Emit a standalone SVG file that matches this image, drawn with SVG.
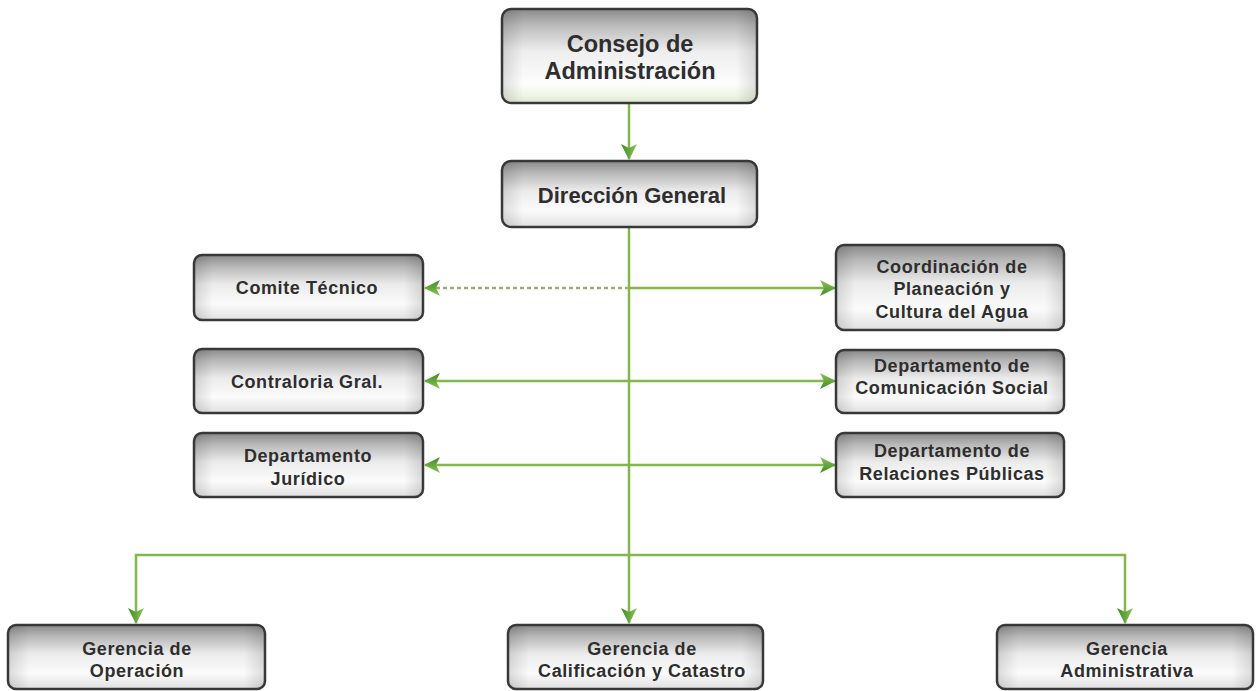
<svg xmlns="http://www.w3.org/2000/svg" width="1257" height="691" viewBox="0 0 1257 691">
  <defs>
    <linearGradient id="boxFill" x1="0" y1="0" x2="0" y2="1">
      <stop offset="0" stop-color="#8a8a8a"/>
      <stop offset="0.18" stop-color="#b8b8b8"/>
      <stop offset="0.45" stop-color="#ebebeb"/>
      <stop offset="0.75" stop-color="#fbfbfb"/>
      <stop offset="1" stop-color="#e0e0e0"/>
    </linearGradient>
    <linearGradient id="topFill" x1="0" y1="0" x2="0" y2="1">
      <stop offset="0" stop-color="#8a8a8a"/>
      <stop offset="0.18" stop-color="#bcbcbc"/>
      <stop offset="0.45" stop-color="#eeeeee"/>
      <stop offset="0.8" stop-color="#fdfdfd"/>
      <stop offset="0.92" stop-color="#eef5e4"/>
      <stop offset="1" stop-color="#dfe9d2"/>
    </linearGradient>
    <linearGradient id="sideShade" x1="0" y1="0" x2="1" y2="0">
      <stop offset="0" stop-color="#000" stop-opacity="0.12"/>
      <stop offset="0.08" stop-color="#000" stop-opacity="0"/>
      <stop offset="0.92" stop-color="#000" stop-opacity="0"/>
      <stop offset="1" stop-color="#000" stop-opacity="0.12"/>
    </linearGradient>
    <linearGradient id="headFill" x1="0" y1="0" x2="0" y2="1">
      <stop offset="0" stop-color="#8cc45a"/>
      <stop offset="1" stop-color="#3f8a22"/>
    </linearGradient>
    <marker id="arrow" viewBox="0 0 16 16" refX="15" refY="8" markerWidth="16" markerHeight="16" markerUnits="userSpaceOnUse" orient="auto-start-reverse">
      <path d="M0,0 L16,8 L0,16 L4,8 Z" fill="url(#headFill)"/>
    </marker>
  </defs>
  <style>
    .box { stroke: #383838; stroke-width: 2.5; }
    .lbl { font-family: "Liberation Sans", Arial, sans-serif; font-weight: bold; fill: #2e2e2e; text-anchor: middle; }
    .big { font-size: 23.5px; }
    .mid { font-size: 22px; }
    .sm { font-size: 18px; letter-spacing: 0.6px; }
    .line { stroke: #80b84c; stroke-width: 2.5; fill: none; }
    .dash { stroke-dasharray: 4 3; stroke: #97b06e; }
  </style>
  <rect width="1257" height="691" fill="#ffffff"/>

  <g id="connectors">
    <line class="line" x1="629" y1="104" x2="629" y2="159" marker-end="url(#arrow)"/>
    <line class="line" x1="629" y1="228" x2="629" y2="623" marker-end="url(#arrow)"/>
    <line class="line dash" x1="629" y1="288" x2="425" y2="288" marker-end="url(#arrow)"/>
    <line class="line" x1="629" y1="288" x2="835" y2="288" marker-end="url(#arrow)"/>
    <line class="line" x1="425" y1="381" x2="835" y2="381" marker-start="url(#arrow)" marker-end="url(#arrow)"/>
    <line class="line" x1="425" y1="465" x2="835" y2="465" marker-start="url(#arrow)" marker-end="url(#arrow)"/>
    <polyline class="line" points="629,555 136,555 136,623" marker-end="url(#arrow)"/>
    <polyline class="line" points="629,555 1125,555 1125,623" marker-end="url(#arrow)"/>
  </g>

  <g id="consejo">
    <rect class="box" x="502" y="9" width="255" height="94" rx="9" fill="url(#topFill)"/>
    <rect x="503" y="10" width="253" height="92" rx="8" fill="url(#sideShade)"/>
    <text class="lbl big" x="630" y="52">Consejo de</text>
    <text class="lbl big" x="630" y="79">Administración</text>
  </g>

  <g id="direccion">
    <rect class="box" x="502" y="161" width="255" height="66" rx="9" fill="url(#boxFill)"/>
    <rect x="503" y="162" width="253" height="64" rx="8" fill="url(#sideShade)"/>
    <text class="lbl mid" x="632" y="203">Dirección General</text>
  </g>

  <g id="comite">
    <rect class="box" x="194" y="255" width="229" height="65" rx="8" fill="url(#boxFill)"/>
    <rect x="195" y="256" width="227" height="63" rx="7" fill="url(#sideShade)"/>
    <text class="lbl sm" x="307" y="294">Comite Técnico</text>
  </g>

  <g id="contraloria">
    <rect class="box" x="194" y="349" width="229" height="64" rx="8" fill="url(#boxFill)"/>
    <rect x="195" y="350" width="227" height="62" rx="7" fill="url(#sideShade)"/>
    <text class="lbl sm" x="307" y="388">Contraloria Gral.</text>
  </g>

  <g id="juridico">
    <rect class="box" x="194" y="433" width="229" height="64" rx="8" fill="url(#boxFill)"/>
    <rect x="195" y="434" width="227" height="62" rx="7" fill="url(#sideShade)"/>
    <text class="lbl sm" x="308" y="462">Departamento</text>
    <text class="lbl sm" x="308" y="485">Jurídico</text>
  </g>

  <g id="coordinacion">
    <rect class="box" x="836" y="245" width="228" height="85" rx="8" fill="url(#boxFill)"/>
    <rect x="837" y="246" width="226" height="83" rx="7" fill="url(#sideShade)"/>
    <text class="lbl sm" x="952" y="273">Coordinación de</text>
    <text class="lbl sm" x="952" y="295">Planeación y</text>
    <text class="lbl sm" x="952" y="318">Cultura del Agua</text>
  </g>

  <g id="comunicacion">
    <rect class="box" x="836" y="350" width="228" height="63" rx="8" fill="url(#boxFill)"/>
    <rect x="837" y="351" width="226" height="61" rx="7" fill="url(#sideShade)"/>
    <text class="lbl sm" x="952" y="372">Departamento de</text>
    <text class="lbl sm" x="952" y="394">Comunicación Social</text>
  </g>

  <g id="relaciones">
    <rect class="box" x="836" y="433" width="228" height="64" rx="8" fill="url(#boxFill)"/>
    <rect x="837" y="434" width="226" height="62" rx="7" fill="url(#sideShade)"/>
    <text class="lbl sm" x="952" y="457">Departamento de</text>
    <text class="lbl sm" x="952" y="480">Relaciones Públicas</text>
  </g>

  <g id="operacion">
    <rect class="box" x="8" y="625" width="257" height="64" rx="8" fill="url(#boxFill)"/>
    <rect x="9" y="626" width="255" height="62" rx="7" fill="url(#sideShade)"/>
    <text class="lbl sm" x="137" y="655">Gerencia de</text>
    <text class="lbl sm" x="137" y="677">Operación</text>
  </g>

  <g id="calificacion">
    <rect class="box" x="508" y="625" width="255" height="64" rx="8" fill="url(#boxFill)"/>
    <rect x="509" y="626" width="253" height="62" rx="7" fill="url(#sideShade)"/>
    <text class="lbl sm" x="642" y="655">Gerencia de</text>
    <text class="lbl sm" x="642" y="677">Calificación y Catastro</text>
  </g>

  <g id="administrativa">
    <rect class="box" x="997" y="625" width="256" height="64" rx="8" fill="url(#boxFill)"/>
    <rect x="998" y="626" width="254" height="62" rx="7" fill="url(#sideShade)"/>
    <text class="lbl sm" x="1127" y="655">Gerencia</text>
    <text class="lbl sm" x="1127" y="677">Administrativa</text>
  </g>
</svg>
